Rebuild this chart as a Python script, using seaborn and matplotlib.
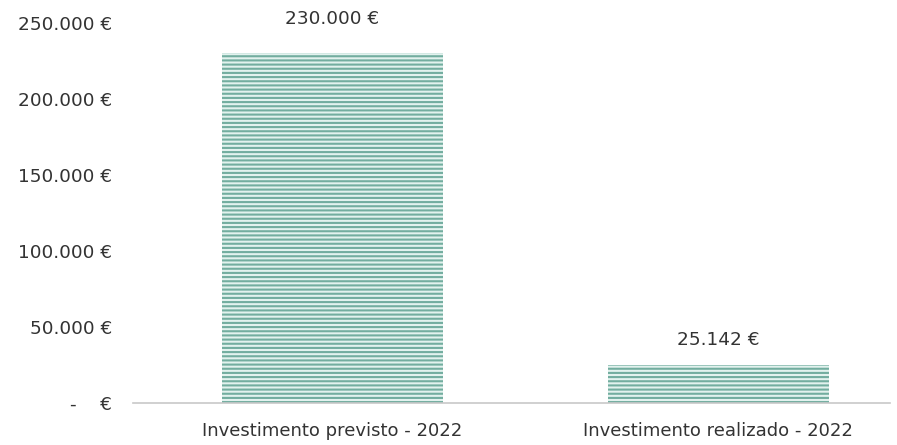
import matplotlib
matplotlib.use("Agg")
import matplotlib.pyplot as plt
import seaborn as sns
import pandas as pd
from matplotlib.ticker import FuncFormatter

categories = ["Investimento previsto - 2022", "Investimento realizado - 2022"]
values = [230000, 25142]
value_labels = ["230.000 €", "25.142 €"]

sns.set_theme(style="white")
plt.rcParams['font.family'] = ['DejaVu Sans']
plt.rcParams['hatch.linewidth'] = 1.5
plt.rcParams['hatch.color'] = '#72ad9f'

df = pd.DataFrame({"cat": categories, "val": values})

fig = plt.figure(figsize=(8.97, 4.45), dpi=100)
ax = fig.add_axes([133 / 897, 0.0944, (890 - 133) / 897, 0.855])
sns.barplot(data=df, x="cat", y="val", ax=ax, color="#e2f2ee", width=0.573,
            saturation=1, linewidth=0)
for p in ax.patches:
    p.set_hatch('----')
    p.set_edgecolor('#72ad9f')
    p.set_linewidth(0)

ax.set_ylim(0, 250000)
ax.set_xlim(-0.5175, 1.446)
ax.set_yticks([0, 50000, 100000, 150000, 200000, 250000])

def fmt(v, pos):
    if v == 0:
        return "-    €"
    return f"{int(v):,}".replace(",", ".") + " €"

ax.yaxis.set_major_formatter(FuncFormatter(fmt))
ax.tick_params(axis='y', length=0, pad=15, labelsize=13.3, colors='#333333')
ax.tick_params(axis='x', length=0, pad=14, labelsize=13, colors='#333333')
ax.set_xlabel("")
ax.set_ylabel("")
for s in ["top", "right", "left"]:
    ax.spines[s].set_visible(False)
ax.spines["bottom"].set_color("#c8c8c8")
ax.spines["bottom"].set_linewidth(1.2)

offsets = [18, 11]
for i, (v, lab) in enumerate(zip(values, value_labels)):
    ax.annotate(lab, (i, v), xytext=(0, offsets[i]), textcoords="offset points",
                ha="center", va="bottom", fontsize=13.3, color="#333333",
                annotation_clip=False)

fig.savefig("out.png", dpi=100)
